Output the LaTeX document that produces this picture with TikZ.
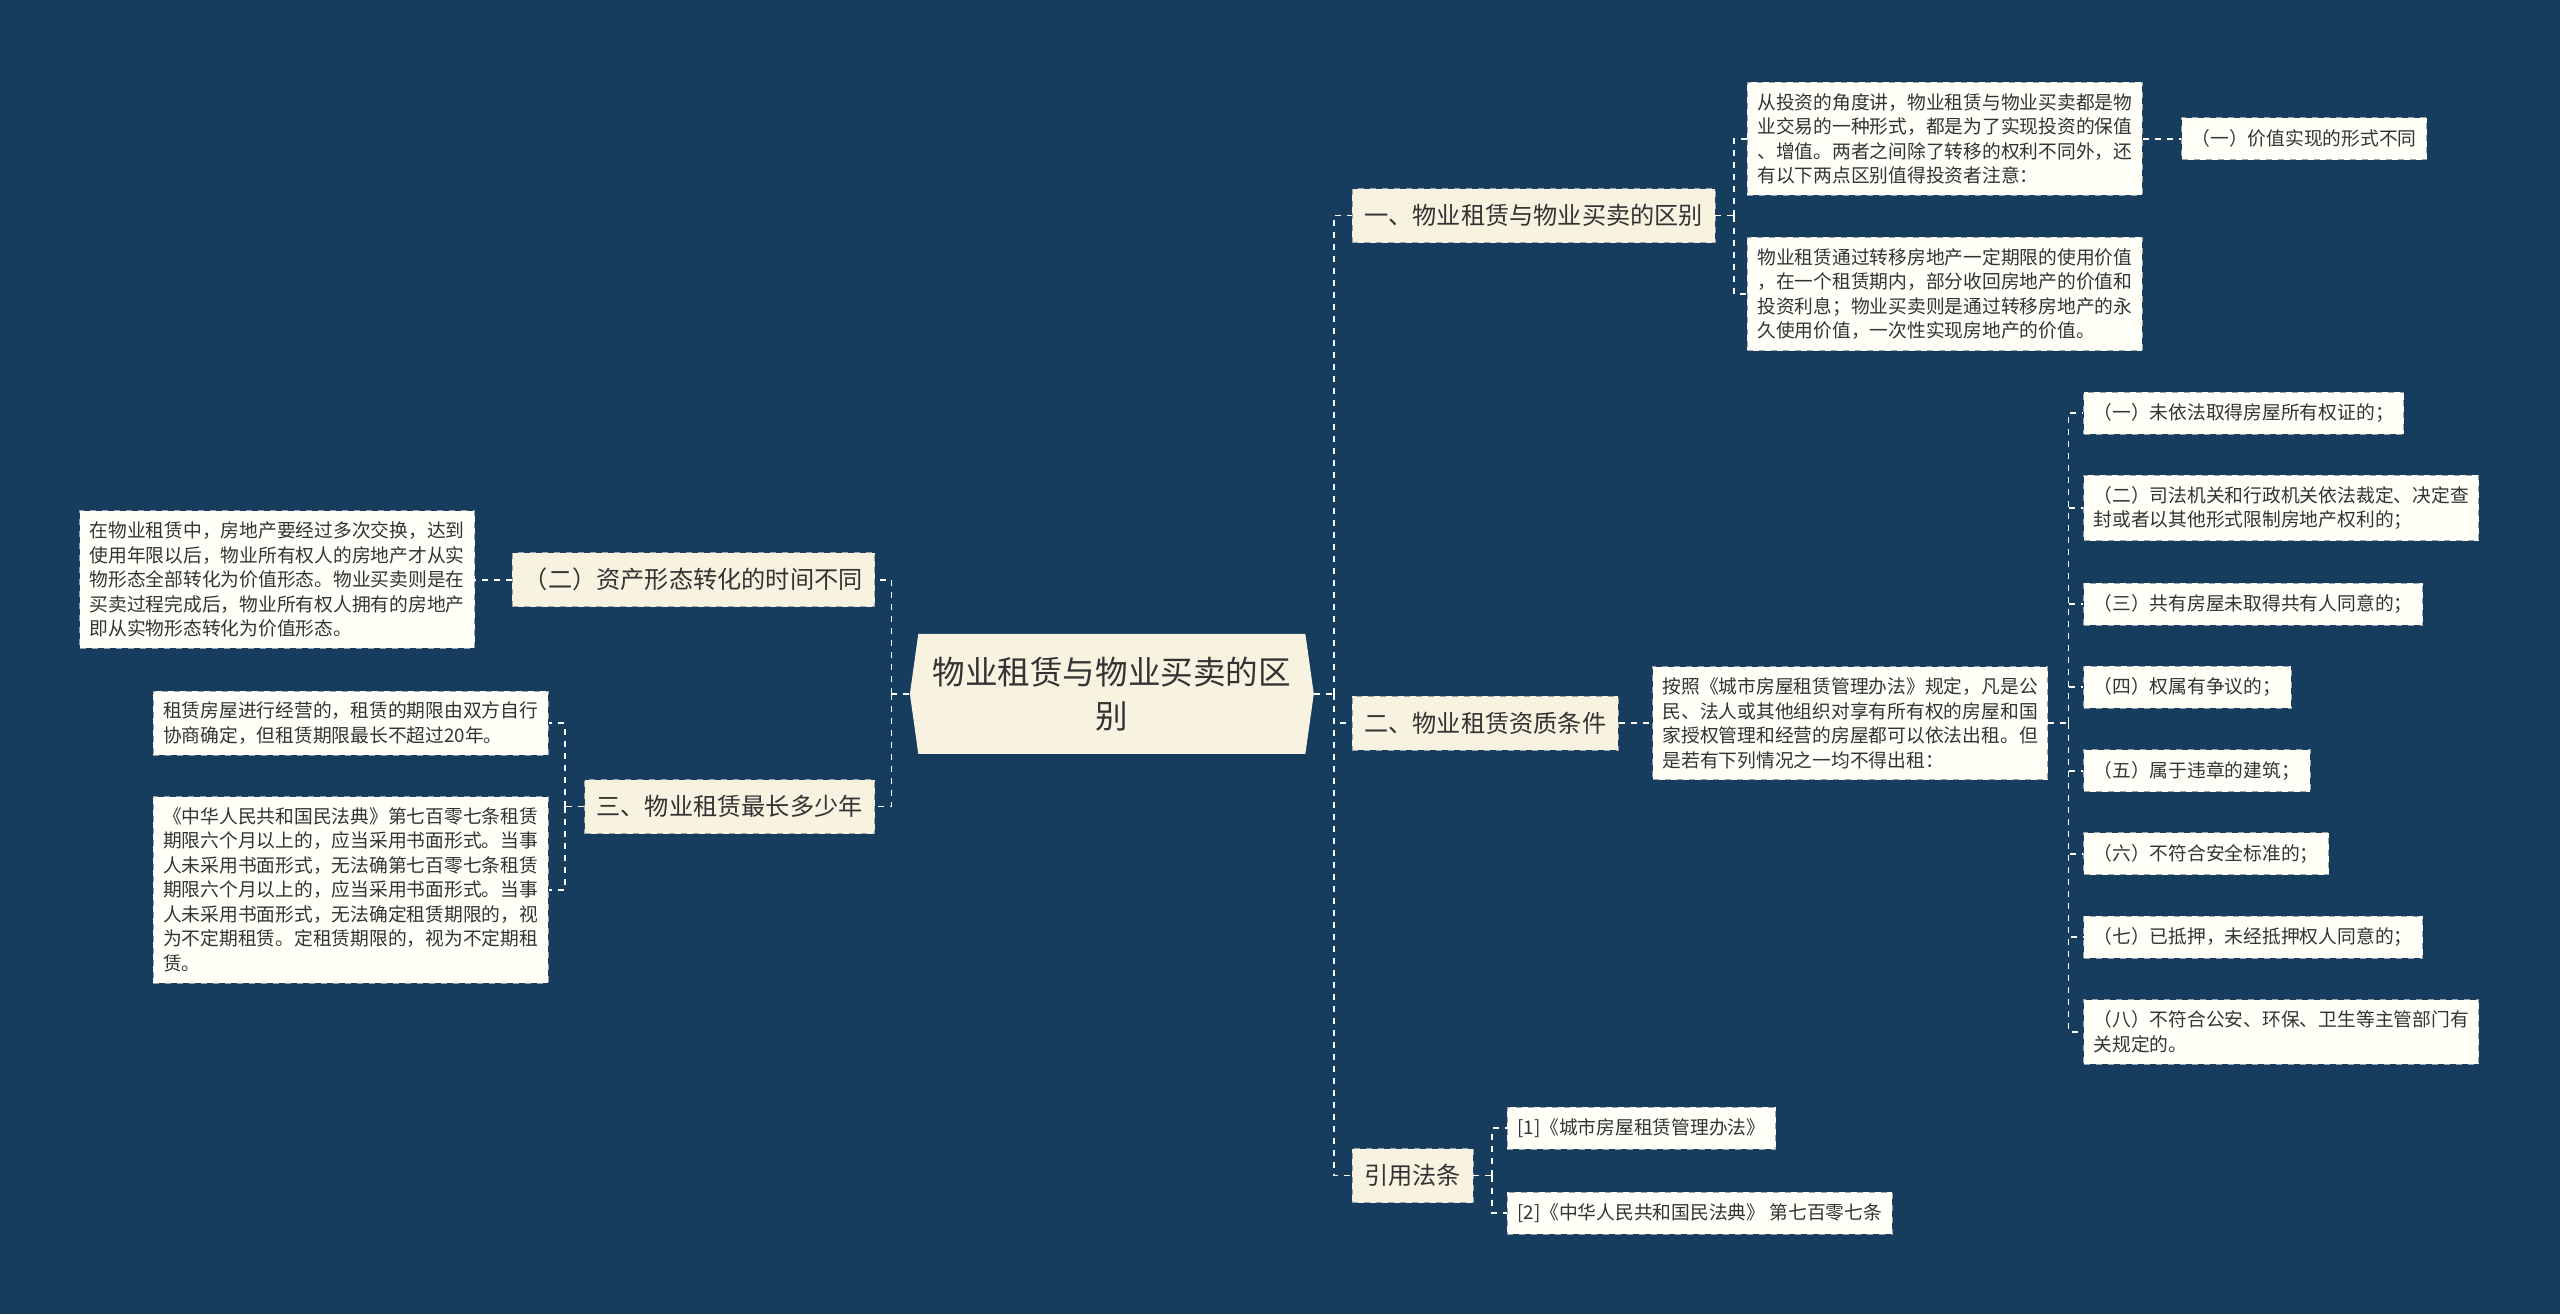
\documentclass[tikz,border=0pt]{standalone}
\usepackage{fontspec}
\setmainfont{Noto Sans CJK SC}
\usetikzlibrary{shapes.symbols}
\definecolor{bgblue}{HTML}{173D5E}
\definecolor{cream}{HTML}{F8F3E0}
\definecolor{paper}{HTML}{FFFFF8}
\definecolor{rim}{HTML}{9AA3AA}
\definecolor{ink}{HTML}{333333}

\begin{document}
\begin{tikzpicture}[
  x=0.8165pt, y=-0.8165pt,
  every node/.style={inner sep=0pt, text=ink},
  rootbox/.style={signal, signal to=east and west, signal pointer angle=164, fill=cream,
    minimum width=202pt, minimum height=60pt, align=center,
    font=\fontsize{16.3pt}{22pt}\selectfont},
  topic/.style={draw=rim, dashed, fill=cream, inner xsep=6pt, minimum height=27pt,
    font=\fontsize{12.1pt}{14pt}\selectfont},
  leaf/.style={draw=rim, dashed, fill=paper, inner xsep=5pt, inner ysep=5.5pt,
    minimum height=21pt, align=left, font=\fontsize{9.38pt}{12.25pt}\selectfont},
  link/.style={draw=white, dashed, line width=0.9pt}
]
\fill[bgblue] (0,0) rectangle (1568,805);
\useasboundingbox (0,0) rectangle (1568,805);

% centre
\node[rootbox] (root) at (681,425) {物业租赁与物业买卖的区\\别};

% right side
\node[topic, anchor=west] (diff) at (828,132) {一、物业租赁与物业买卖的区别};
\node[topic, anchor=west] (cond) at (828,443) {二、物业租赁资质条件};
\node[topic, anchor=west] (laws) at (828,720) {引用法条};

\node[leaf, anchor=west] (diff1) at (1070,85) {从投资的角度讲，物业租赁与物业买卖都是物\\业交易的一种形式，都是为了实现投资的保值\\、增值。两者之间除了转移的权利不同外，还\\有以下两点区别值得投资者注意：};
\node[leaf, anchor=west] (diff2) at (1070,180) {物业租赁通过转移房地产一定期限的使用价值\\，在一个租赁期内，部分收回房地产的价值和\\投资利息；物业买卖则是通过转移房地产的永\\久使用价值，一次性实现房地产的价值。};
\node[leaf, anchor=west] (value) at (1336,85) {（一）价值实现的形式不同};

\node[leaf, anchor=west] (rule) at (1012,443) {按照《城市房屋租赁管理办法》规定，凡是公\\民、法人或其他组织对享有所有权的房屋和国\\家授权管理和经营的房屋都可以依法出租。但\\是若有下列情况之一均不得出租：};
\node[leaf, anchor=west] (no1) at (1276,253) {（一）未依法取得房屋所有权证的；};
\node[leaf, anchor=west] (no2) at (1276,311) {（二）司法机关和行政机关依法裁定、决定查\\封或者以其他形式限制房地产权利的；};
\node[leaf, anchor=west] (no3) at (1276,370) {（三）共有房屋未取得共有人同意的；};
\node[leaf, anchor=west] (no4) at (1276,421) {（四）权属有争议的；};
\node[leaf, anchor=west] (no5) at (1276,472) {（五）属于违章的建筑；};
\node[leaf, anchor=west] (no6) at (1276,523) {（六）不符合安全标准的；};
\node[leaf, anchor=west] (no7) at (1276,574) {（七）已抵押，未经抵押权人同意的；};
\node[leaf, anchor=west] (no8) at (1276,632) {（八）不符合公安、环保、卫生等主管部门有\\关规定的。};

\node[leaf, anchor=west] (law1) at (923,691) {[1]《城市房屋租赁管理办法》};
\node[leaf, anchor=west] (law2) at (923,743) {[2]《中华人民共和国民法典》 第七百零七条};

% left side
\node[topic, anchor=east] (form) at (536,355) {（二）资产形态转化的时间不同};
\node[topic, anchor=east] (term) at (536,494) {三、物业租赁最长多少年};

\node[leaf, anchor=east] (form1) at (291,355) {在物业租赁中，房地产要经过多次交换，达到\\使用年限以后，物业所有权人的房地产才从实\\物形态全部转化为价值形态。物业买卖则是在\\买卖过程完成后，物业所有权人拥有的房地产\\即从实物形态转化为价值形态。};
\node[leaf, anchor=east] (term1) at (336,443) {租赁房屋进行经营的，租赁的期限由双方自行\\协商确定，但租赁期限最长不超过20年。};
\node[leaf, anchor=east] (term2) at (336,545) {《中华人民共和国民法典》第七百零七条租赁\\期限六个月以上的，应当采用书面形式。当事\\人未采用书面形式，无法确第七百零七条租赁\\期限六个月以上的，应当采用书面形式。当事\\人未采用书面形式，无法确定租赁期限的，视\\为不定期租赁。定租赁期限的，视为不定期租\\赁。};

% connectors
\coordinate (rspine) at (817,425);
\coordinate (lspine) at (546,425);
\draw[link] (root.east) -- (rspine);
\draw[link] (root.west) -- (lspine);
\foreach \n in {diff,cond,laws} \draw[link] (rspine) |- (\n.west);
\foreach \n in {form,term} \draw[link] (lspine) |- (\n.east);

\coordinate (dspine) at (1062,132);
\draw[link] (diff.east) -- (dspine);
\foreach \n in {diff1,diff2} \draw[link] (dspine) |- (\n.west);
\draw[link] (diff1.east) -- (value.west);

\draw[link] (cond.east) -- (rule.west);
\coordinate (nspine) at (1267,443);
\draw[link] (rule.east) -- (nspine);
\foreach \n in {no1,no2,no3,no4,no5,no6,no7,no8} \draw[link] (nspine) |- (\n.west);

\coordinate (lawspine) at (914,720);
\draw[link] (laws.east) -- (lawspine);
\foreach \n in {law1,law2} \draw[link] (lawspine) |- (\n.west);

\draw[link] (form.west) -- (form1.east);
\coordinate (tspine) at (346,494);
\draw[link] (term.west) -- (tspine);
\foreach \n in {term1,term2} \draw[link] (tspine) |- (\n.east);
\end{tikzpicture}
\end{document}
